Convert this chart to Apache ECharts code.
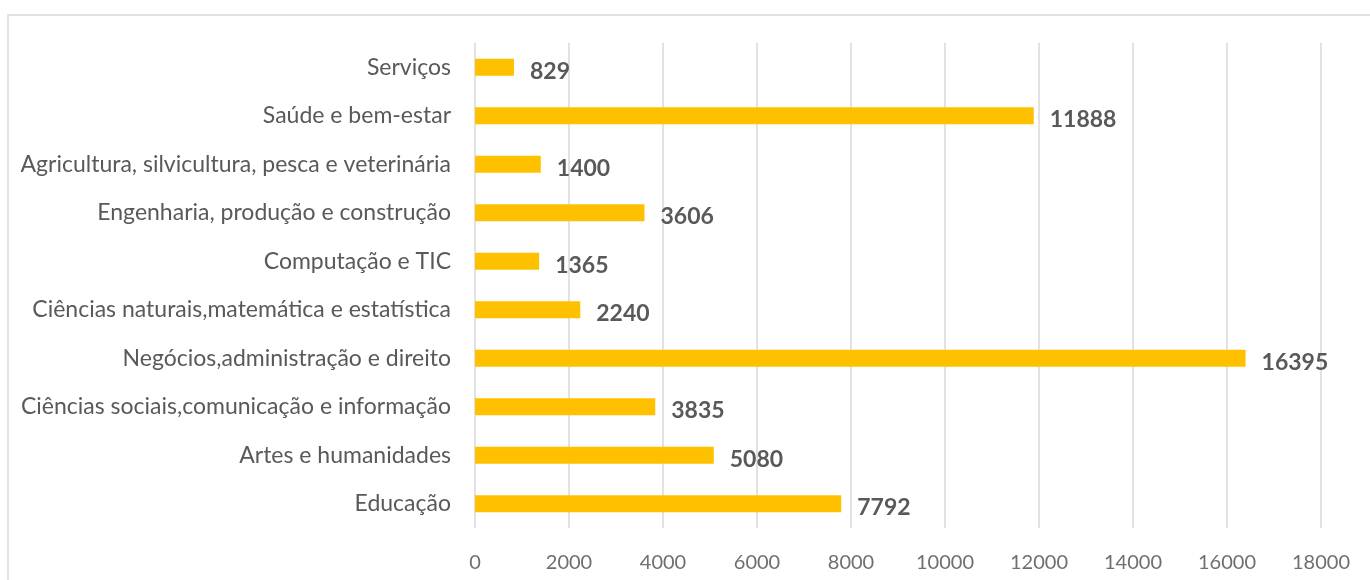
<!DOCTYPE html>
<html>
<head>
<meta charset="utf-8">
<script src="https://cdn.jsdelivr.net/npm/echarts@6/dist/echarts.min.js"></script>
<style>
html,body{margin:0;padding:0;background:#fff;}
#chart{width:1370px;height:580px;}
</style>
</head>
<body>
<div id="chart"></div>
<script>
const categories = [
  "Educação",
  "Artes e humanidades",
  "Ciências sociais,comunicação e informação",
  "Negócios,administração e direito",
  "Ciências naturais,matemática e estatística",
  "Computação e TIC",
  "Engenharia, produção e construção",
  "Agricultura, silvicultura, pesca e veterinária",
  "Saúde e bem-estar",
  "Serviços"
];
const values = [7792, 5080, 3835, 16395, 2240, 1365, 3606, 1400, 11888, 829];
const xTicks = { min: 0, max: 18000, interval: 2000 };

const chart = echarts.init(document.getElementById('chart'));
const font = 'Lato, "Noto Sans", sans-serif';
chart.setOption({
  backgroundColor: '#ffffff',
  animation: false,
  graphic: [{
    type: 'rect',
    shape: { x: 8, y: 15, width: 1420, height: 640 },
    style: { fill: 'none', stroke: '#d9d9d9', lineWidth: 1.5 },
    silent: true
  }],
  grid: { left: 475, right: 49, top: 43, bottom: 52, containLabel: false },
  xAxis: {
    type: 'value',
    min: xTicks.min, max: xTicks.max, interval: xTicks.interval,
    axisLine: { show: false },
    axisTick: { show: false },
    splitLine: { show: true, lineStyle: { color: '#d9d9d9', width: 1.5 } },
    axisLabel: {
      color: '#6f6f6f', fontSize: 20, fontFamily: font, margin: 25,
      formatter: function (v) { return String(v); }
    }
  },
  yAxis: {
    type: 'category',
    data: categories,
    axisLine: { show: false },
    axisTick: { show: false },
    axisLabel: { color: '#595959', fontSize: 23, fontFamily: font, margin: 24 }
  },
  series: [{
    type: 'bar',
    data: values,
    barWidth: 17,
    itemStyle: { color: '#FFC000' },
    label: {
      show: true,
      position: 'right',
      distance: 16,
      offset: [0, 4],
      color: '#595959',
      fontSize: 23,
      fontWeight: 'bold',
      fontFamily: font
    }
  }]
});
</script>
</body>
</html>
